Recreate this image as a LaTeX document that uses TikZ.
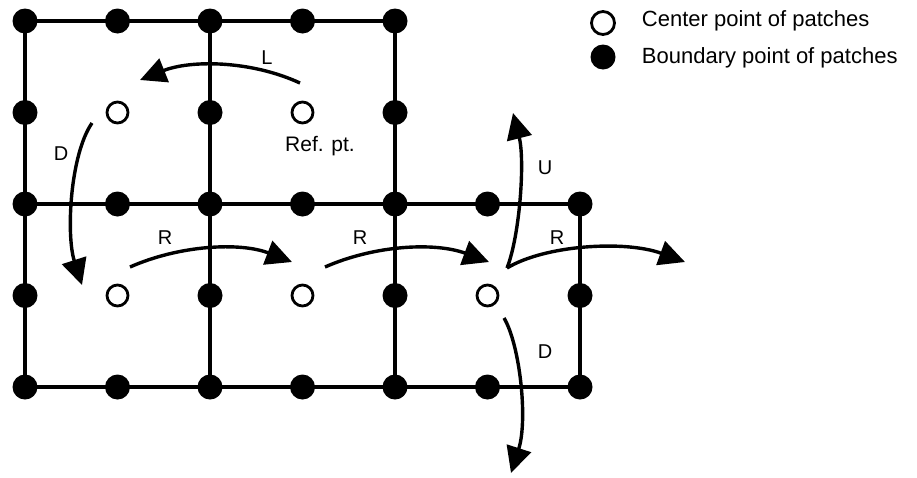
\documentclass[tikz,border=0pt]{standalone}
\usepackage{fontspec}
\setmainfont{Liberation Sans}
\usetikzlibrary{arrows.meta}

\begin{document}
\begin{tikzpicture}[x=1pt,y=-1pt,line width=3.2pt,
  bdry/.style={circle,fill,inner sep=0pt,minimum size=25pt},
  ctr/.style={circle,draw,fill=white,inner sep=0pt,minimum size=21pt,line width=2.8pt},
  move/.style={-{Triangle[length=26pt,width=25pt]},line width=3.4pt},
  lbl/.style={font=\fontsize{20}{20}\selectfont},
  legend/.style={font=\fontsize{22}{22}\selectfont,anchor=west}]
\useasboundingbox (0,0) rectangle (917,477);
\pgfmathsetmacro{\dx}{92.5} % patch half width
\pgfmathsetmacro{\dy}{91.5} % patch half height
\foreach \i in {0,...,6}
  \foreach \j in {0,...,4}
    \coordinate (p-\i-\j) at (25+\i*\dx, 21+\j*\dy);
% patch edges
\draw (p-0-0) -- (p-4-0);
\draw (p-0-2) -- (p-6-2);
\draw (p-0-4) -- (p-6-4);
\draw (p-0-0) -- (p-0-4);
\draw (p-2-0) -- (p-2-4);
\draw (p-4-0) -- (p-4-4);
\draw (p-6-2) -- (p-6-4);
% boundary points
\foreach \i in {0,...,4} \node[bdry] (b-\i-0) at (p-\i-0) {};
\foreach \i in {0,2,4} \node[bdry] (b-\i-1) at (p-\i-1) {};
\foreach \i in {0,...,6} \node[bdry] (b-\i-2) at (p-\i-2) {};
\foreach \i in {0,2,4,6} \node[bdry] (b-\i-3) at (p-\i-3) {};
\foreach \i in {0,...,6} \node[bdry] (b-\i-4) at (p-\i-4) {};
% center points
\foreach \i/\j in {1/1,3/1,1/3,3/3,5/3} \node[ctr] (c-\i-\j) at (p-\i-\j) {};
\node[lbl,font=\fontsize{21}{21}\selectfont] (ref) at (320,146) {Ref. pt.};
% moves of the reference point
\coordinate (l0) at (300,83);   \coordinate (l1) at (140,80);
\coordinate (d0) at (92,123);   \coordinate (d1) at (82,285);
\coordinate (r0) at (130,267);  \coordinate (r1) at (292,262);
\coordinate (s0) at (325,267);  \coordinate (s1) at (489,262);
\coordinate (t0) at (507,268);  \coordinate (t1) at (685,262);
\coordinate (u1) at (513,113);
\coordinate (e0) at (504,318);  \coordinate (e1) at (511,473);
\draw[move] (l0) .. controls (250,60) and (190,60) .. (l1);
\draw[move] (d0) .. controls (70,155) and (66,235) .. (d1);
\draw[move] (r0) .. controls (180,245) and (240,242) .. (r1);
\draw[move] (s0) .. controls (375,245) and (435,242) .. (s1);
\draw[move] (t0) .. controls (545,245) and (625,240) .. (t1);
\draw[move] (t0) .. controls (520,235) and (525,160) .. (u1);
\draw[move] (e0) .. controls (520,345) and (528,420) .. (e1);
\node[lbl] (lab-l) at (267,58) {L};
\node[lbl] (lab-d) at (61,154) {D};
\node[lbl] (lab-r1) at (165,238) {R};
\node[lbl] (lab-r2) at (360,238) {R};
\node[lbl] (lab-r3) at (557,238) {R};
\node[lbl] (lab-u) at (545,168) {U};
\node[lbl] (lab-e) at (545,352) {D};
% legend
\node[ctr,minimum size=23pt] (key-c) at (603,23) {};
\node[bdry] (key-b) at (603,57) {};
\node[legend] (txt-c) at (637,21) {Center point of patches};
\node[legend] (txt-b) at (637,58) {Boundary point of patches};
\end{tikzpicture}
\end{document}
